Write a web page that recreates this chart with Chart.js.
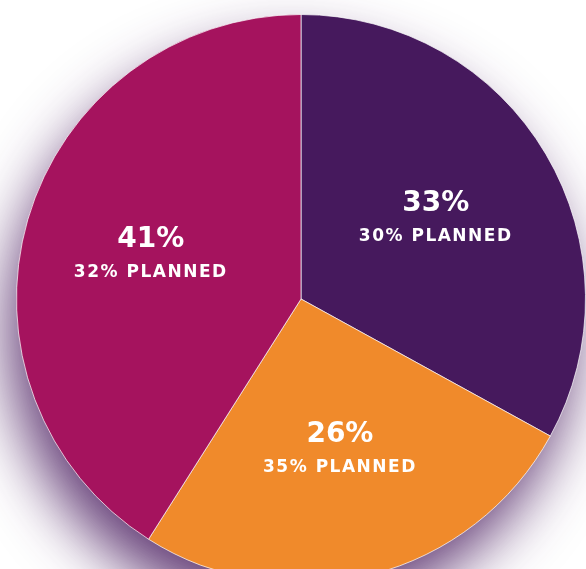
<!DOCTYPE html>
<html>
<head>
<meta charset="utf-8">
<script src="https://cdn.jsdelivr.net/npm/chart.js@4.4.0/dist/chart.umd.min.js"></script>
<style>
  html, body { margin: 0; padding: 0; background: #fff; overflow: hidden; }
  #wrap { width: 586px; height: 600px; position: relative; }
</style>
</head>
<body>
<div id="wrap"><canvas id="pie"></canvas></div>
<script>
const categories = ['Purple', 'Orange', 'Magenta'];
const actualShare = [33, 26, 41];
const plannedShare = [30, 35, 32];
const sliceColors = ['#46195D', '#F08A2B', '#A5135E'];

// soft purple drop shadow under the whole pie
const pieShadow = {
    id: 'pieShadow',
    beforeDatasetsDraw(chart) {
        const arc = chart.getDatasetMeta(0).data[0];
        if (!arc) return;
        const ctx = chart.ctx;
        ctx.save();
        ctx.shadowColor = 'rgba(70, 25, 93, 0.85)';
        ctx.shadowBlur = 60;
        ctx.shadowOffsetX = -10;
        ctx.shadowOffsetY = 32;
        ctx.fillStyle = '#46195D';
        ctx.beginPath();
        ctx.arc(arc.x, arc.y, arc.outerRadius - 2, 0, Math.PI * 2);
        ctx.fill();
        ctx.restore();
    }
};

const sliceLabels = {
    id: 'sliceLabels',
    afterDatasetsDraw(chart) {
        const ctx = chart.ctx;
        chart.getDatasetMeta(0).data.forEach((arc, i) => {
            const mid = (arc.startAngle + arc.endAngle) / 2;
            const r = arc.outerRadius * 0.55;
            const x = arc.x + Math.cos(mid) * r;
            const y = arc.y + Math.sin(mid) * r;
            ctx.save();
            ctx.fillStyle = '#ffffff';
            ctx.textAlign = 'center';
            ctx.textBaseline = 'middle';
            ctx.font = 'bold 28px "DejaVu Sans"';
            ctx.fillText(actualShare[i] + '%', x, y - 16);
            ctx.font = 'bold 17px "DejaVu Sans"';
            ctx.letterSpacing = '1.5px';
            ctx.fillText(plannedShare[i] + '% PLANNED', x, y + 17);
            ctx.restore();
        });
    }
};

new Chart(document.getElementById('pie'), {
    type: 'pie',
    data: {
        labels: categories,
        datasets: [{
            data: actualShare,
            backgroundColor: sliceColors,
            borderColor: 'rgba(255,255,255,0.7)',
            borderWidth: 1
        }]
    },
    options: {
        responsive: true,
        maintainAspectRatio: false,
        animation: false,
        layout: { padding: { top: 14, left: 16, right: 0, bottom: 16 } },
        plugins: {
            legend: { display: false },
            tooltip: { enabled: false }
        }
    },
    plugins: [pieShadow, sliceLabels]
});
</script>
</body>
</html>
